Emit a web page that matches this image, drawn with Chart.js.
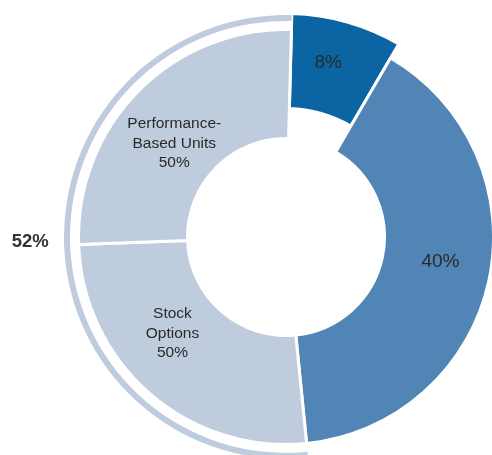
<!DOCTYPE html>
<html><head><meta charset="utf-8">
<script src="https://cdn.jsdelivr.net/npm/chart.js@4/dist/chart.umd.min.js"></script>
<style>html,body{margin:0;padding:0;background:#fff;}#wrap{width:492px;height:455px;}</style>
</head><body><div id="wrap"><canvas id="c" width="492" height="455"></canvas></div>
<script>
// ---- data ----
const sliceLabels = ['8%', '40%', 'Stock Options', 'Performance-Based Units'];
const sliceValues = [8, 40, 26, 26];
const sliceText = [['8%'], ['40%'], ['Stock', 'Options', '50%'], ['Performance-', 'Based Units', '50%']];
const groupLabels = ['8%', '40%', 'Stock Options + Performance-Based Units'];
const groupValues = [8, 40, 52];
const groupText = ['', '', '52%'];

// ---- style ----
const DARK = '#0a65a2', MID = '#5185b5', LIGHT = '#bfccdd', TXT = '#2a2a2a';
const popOut = { index: 0, outer: 16, inner: 30 };
const labelNudge = [[-6, -5], [5, -8], [-13, -19], [-3, 14]];
const groupLabelGap = 34;

const labelPlugin = {
  id: 'labels',
  afterDatasetUpdate(chart, args) {
    if (args.index !== 2) return;
    const el = chart.getDatasetMeta(2).data[popOut.index];
    el.outerRadius += popOut.outer;
    el.innerRadius += popOut.inner;
  },
  afterDatasetsDraw(chart) {
    const ctx = chart.ctx;
    ctx.save();
    ctx.fillStyle = TXT;
    ctx.textAlign = 'center';
    ctx.textBaseline = 'middle';
    const main = chart.getDatasetMeta(2).data;
    main.forEach((arc, i) => {
      const p = arc.getCenterPoint();
      const lines = sliceText[i];
      const big = lines.length === 1;
      ctx.font = (big ? '19px' : '15.5px') + ' "Liberation Sans", Arial, sans-serif';
      const lh = 19.5;
      const x = p.x + labelNudge[i][0];
      const y0 = p.y + labelNudge[i][1] - (lines.length - 1) * lh / 2;
      lines.forEach((t, k) => ctx.fillText(t, x, y0 + k * lh));
    });
    const outer = chart.getDatasetMeta(0).data;
    outer.forEach((arc, i) => {
      if (!groupText[i]) return;
      const a = (arc.startAngle + arc.endAngle) / 2;
      const r = arc.outerRadius + groupLabelGap;
      ctx.font = 'bold 18.5px "Liberation Sans", Arial, sans-serif';
      ctx.fillStyle = '#333333';
      ctx.fillText(groupText[i], arc.x + Math.cos(a) * r, arc.y + Math.sin(a) * r - 4);
    });
    ctx.restore();
  }
};

new Chart(document.getElementById('c'), {
  type: 'doughnut',
  data: {
    labels: sliceLabels,
    datasets: [
      { label: 'group', data: groupValues, backgroundColor: ['rgba(0,0,0,0)', 'rgba(0,0,0,0)', LIGHT], borderWidth: 0, weight: 6 },
      { label: 'gap', data: [1], backgroundColor: 'rgba(0,0,0,0)', borderWidth: 0, weight: 8.5 },
      { label: 'slices', data: sliceValues, backgroundColor: [DARK, MID, LIGHT, LIGHT], borderColor: '#ffffff', borderWidth: 3, weight: 109 }
    ]
  },
  options: {
    responsive: false,
    animation: false,
    devicePixelRatio: 1,
    radius: 222,
    cutout: (98.5 / 222 * 100) + '%',
    rotation: 1.5,
    layout: { padding: { left: 80, top: 19, right: 0, bottom: 0 } },
    events: [],
    plugins: { legend: { display: false }, tooltip: { enabled: false } }
  },
  plugins: [labelPlugin]
});
</script>
</body></html>
